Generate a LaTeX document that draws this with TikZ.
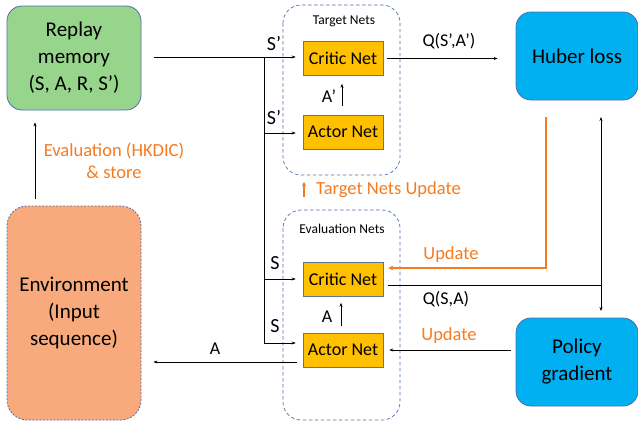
\documentclass[tikz,border=0pt]{standalone}
\usepackage{fontspec}
\setmainfont{Carlito}
\usetikzlibrary{arrows.meta}
\definecolor{memgreen}{HTML}{98D58C}
\definecolor{envorange}{HTML}{F8AA7C}
\definecolor{netyellow}{HTML}{FFC000}
\definecolor{lossblue}{HTML}{00B0F0}
\definecolor{edgeblue}{HTML}{4F6FA8}
\definecolor{updorange}{HTML}{F47B20}
\tikzset{
  bigbox/.style={rounded corners=15pt, draw=edgeblue, line width=0.8pt, align=center,
    font=\fontsize{21}{27}\selectfont, inner sep=0pt},
  netbox/.style={draw=edgeblue!70!gray, fill=netyellow, line width=0.6pt,
    minimum width=80pt, minimum height=34pt, inner sep=0pt, font=\fontsize{18}{20}\selectfont},
  group/.style={draw=edgeblue, dashed, dash pattern=on 3.5pt off 2.5pt, rounded corners=18pt, line width=0.7pt},
  arr/.style={-{Stealth[length=4pt,width=3pt]}, line width=0.6pt},
  uarr/.style={-{Stealth[length=5pt,width=5pt]}, line width=1.4pt, draw=updorange},
  lbl/.style={font=\fontsize{20}{22}\selectfont, inner sep=0pt},
  mlbl/.style={font=\fontsize{18}{20}\selectfont, inner sep=0pt},
  olbl/.style={font=\fontsize{18.5}{22}\selectfont, text=updorange, inner sep=0pt, align=center},
  small/.style={font=\fontsize{13.5}{15}\selectfont, inner sep=0pt}
}
\begin{document}
\begin{tikzpicture}[x=1pt,y=-1pt]
\useasboundingbox (0,0) rectangle (638,431);

% dashed groups
\draw[group] (283,5) rectangle (400,175);
\node[small] (tlabel) at (344,21) {Target Nets};
\draw[group] (283,210) rectangle (400,420);
\node[small] (elabel) at (342,229) {Evaluation Nets};

% main blocks
\node[bigbox, fill=memgreen, minimum width=134pt, minimum height=104pt] (replay) at (74,58)
  {Replay\\memory\\(S, A, R, S’)};
\node[bigbox, fill=envorange, dashed, dash pattern=on 2pt off 1.5pt, rounded corners=20pt,
  minimum width=134pt, minimum height=214pt] (env) at (74,313)
  {Environment\\(Input\\sequence)};
\node[bigbox, fill=lossblue, minimum width=122pt, minimum height=88pt] (huber) at (577,56) {Huber loss};
\node[bigbox, fill=lossblue, minimum width=122pt, minimum height=88pt] (policy) at (577,362)
  {Policy\\gradient};

% actor / critic nets
\node[netbox] (tcritic) at (343,58.5) {Critic Net};
\node[netbox] (tactor) at (343,132) {Actor Net};
\node[netbox] (ecritic) at (343,279.5) {Critic Net};
\node[netbox] (eactor) at (343,350) {Actor Net};

% state bus from replay memory
\coordinate (bustop) at (264,57);
\coordinate (busS1) at (264,133);
\coordinate (busS2) at (264,279);
\coordinate (busS3) at (264,343);
\draw[arr, shorten <=13pt, shorten >=7pt] (replay.east |- bustop) -- (tcritic.west |- bustop);
\draw[line width=0.6pt] (bustop) -- (busS3);
\draw[arr, shorten >=7pt] (busS1) -- (tactor.west |- busS1);
\draw[arr, shorten >=7pt] (busS2) -- (ecritic.west |- busS2);
\draw[arr, shorten >=7pt] (busS3) -- (eactor.west |- busS3);
\node[lbl] (s1) at (274,44) {S’};
\node[lbl] (s2) at (274,118) {S’};
\node[lbl] (s3) at (275,263) {S};
\node[lbl] (s4) at (275,326) {S};

% actor -> critic
\draw[arr, shorten <=9pt, shorten >=8pt] ([xshift=-1pt]tactor.north) -- ([xshift=-1pt]tcritic.south);
\node[mlbl] (ap) at (329,96) {A’};
\draw[arr, shorten <=7pt, shorten >=6pt] ([xshift=-2pt]eactor.north) -- ([xshift=-2pt]ecritic.south);
\node[mlbl] (a1) at (327,317) {A};

% target critic -> Huber loss
\draw[arr, shorten <=4pt, shorten >=18pt] (tcritic.east) -- (huber.west |- tcritic.east);
\node[mlbl] (qt) at (449,41) {Q(S’,A’)};

% Huber loss update of evaluation critic
\coordinate (hu1) at (546,117);
\coordinate (hu2) at (546,268);
\draw[uarr, line width=1.2pt, shorten >=5pt] (hu1) -- (hu2) -- (ecritic.east |- hu2);
\node[olbl] (upd1) at (451,255) {Update};

% Q(S,A) to Huber loss and policy gradient
\coordinate (qj) at (601,285);
\coordinate (qtop) at (601,117);
\coordinate (qbot) at (601,311);
\draw[line width=0.6pt, shorten <=5pt] (ecritic.east |- qj) -- (qj);
\draw[arr] (qj) -- (qtop);
\draw[arr] (qj) -- (qbot);
\node[mlbl] (qe) at (446,299) {Q(S,A)};

% policy gradient update of evaluation actor
\draw[arr, shorten <=5pt, shorten >=6pt] (policy.west |- eactor.east) -- (eactor.east);
\node[olbl] (upd2) at (449,336) {Update};

% action back to environment
\coordinate (aout) at (297,362);
\draw[arr, shorten >=12pt] (aout) -- (env.east |- aout);
\node[mlbl] (a2) at (215,349) {A};

% environment -> replay memory
\draw[arr, shorten <=7pt, shorten >=12pt] (env.north -| 35,0) -- (replay.south -| 35,0);
\node[olbl] (evl) at (114,161) {Evaluation (HKDIC)\\\& store};

% target nets update
\coordinate (tu1) at (304,197);
\coordinate (tu2) at (304,182);
\draw[-{Stealth[length=4pt,width=4pt]}, line width=1.2pt, draw=updorange] (tu1) -- (tu2);
\node[olbl, anchor=west] (tnu) at (316,190) {Target Nets Update};
\end{tikzpicture}
\end{document}
